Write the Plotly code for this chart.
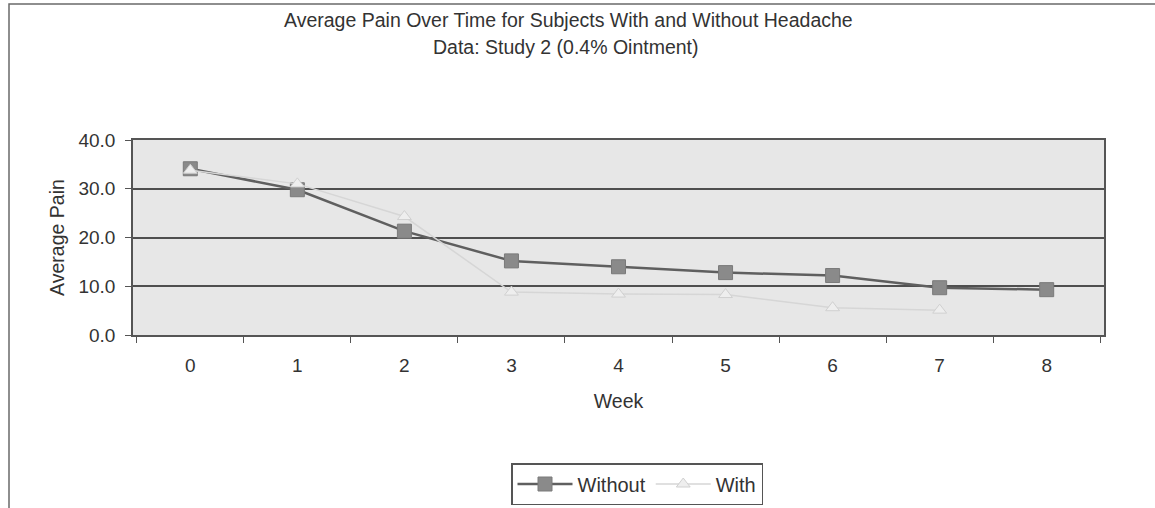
import plotly.graph_objects as go

weeks = ["0", "1", "2", "3", "4", "5", "6", "7", "8"]
without_headache = [34.1, 29.8, 21.3, 15.2, 14.0, 12.8, 12.2, 9.7, 9.3]
with_headache = [33.8, 31.0, 24.3, 8.8, 8.4, 8.3, 5.6, 5.1, None]
y_ticks = [0, 10, 20, 30, 40]

FONT = "Liberation Sans, Arial, sans-serif"
L, R, T, B = 133, 1104, 140, 335
W, H = 1155, 508

fig = go.Figure()
fig.add_trace(go.Scatter(
    x=weeks, y=without_headache, name="Without", mode="lines+markers",
    line=dict(color="#5f5f5f", width=2.5),
    marker=dict(symbol="square", size=14, color="#8a8a8a",
                line=dict(color="#7a7a7a", width=1)),
))
fig.add_trace(go.Scatter(
    x=weeks, y=with_headache, name="With", mode="lines+markers",
    line=dict(color="#d6d6d6", width=1.5),
    marker=dict(symbol="triangle-up", size=12, color="#eeeeee",
                line=dict(color="#d0d0d0", width=1)),
))


def px(xp):
    return (xp - L) / (R - L)


def py(yp):
    return (B - yp) / (B - T)


fig.add_shape(type="rect", xref="paper", yref="paper",
              x0=px(9), x1=px(1170), y0=py(4), y1=py(520),
              line=dict(color="#6a6a6a", width=1.5), fillcolor="rgba(0,0,0,0)",
              layer="below")

fig.add_annotation(text="Average Pain Over Time for Subjects With and Without Headache",
                   xref="paper", yref="paper", x=px(568), y=py(20),
                   xanchor="center", yanchor="middle", showarrow=False,
                   font=dict(family=FONT, size=19.5, color="#333333"))
fig.add_annotation(text="Data: Study 2 (0.4% Ointment)",
                   xref="paper", yref="paper", x=px(566), y=py(47),
                   xanchor="center", yanchor="middle", showarrow=False,
                   font=dict(family=FONT, size=19.5, color="#333333"))

fig.update_layout(
    width=W, height=H,
    margin=dict(l=L, r=W - R, t=T, b=H - B, autoexpand=False),
    paper_bgcolor="white", plot_bgcolor="#e7e7e7",
    font=dict(family=FONT, size=19, color="#333333"),
    showlegend=True,
    legend=dict(orientation="h", x=px(637), xanchor="center",
                y=py(463), yanchor="top",
                bordercolor="#555555", borderwidth=1.5, bgcolor="white",
                font=dict(family=FONT, size=20, color="#333333"),
                itemwidth=55, tracegroupgap=0),
)
fig.update_xaxes(
    type="category", tickson="boundaries", ticks="outside", ticklen=6,
    tickcolor="#555555", showline=True, linecolor="#555555", linewidth=1.5,
    mirror=True, showgrid=False, ticklabelstandoff=12, automargin=False,
    title=dict(text="Week", font=dict(family=FONT, size=19.5, color="#333333"), standoff=20),
)
fig.update_yaxes(
    range=[0, 40], tickvals=y_ticks, tickformat=".1f", ticks="outside", ticklen=6,
    tickcolor="#555555", showline=True, linecolor="#555555", linewidth=1.5,
    mirror=True, showgrid=True, gridcolor="#4f4f4f", gridwidth=1.5,
    ticklabelstandoff=6, zeroline=False, automargin=False,
    title=dict(text="Average Pain", font=dict(family=FONT, size=19.5, color="#333333"), standoff=9),
)

fig.write_html("out.html")
